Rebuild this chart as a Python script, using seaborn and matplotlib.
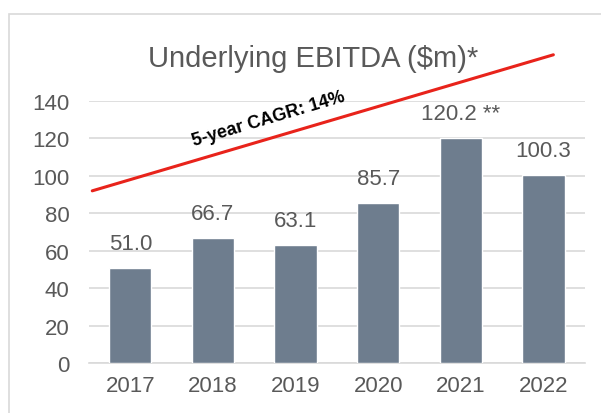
import pandas as pd
import numpy as np
import matplotlib
matplotlib.use("Agg")
import matplotlib.pyplot as plt
import seaborn as sns
from matplotlib.patches import Rectangle

years = ["2017", "2018", "2019", "2020", "2021", "2022"]
ebitda = [51.0, 66.7, 63.1, 85.7, 120.2, 100.3]
labels = ["51.0", "66.7", "63.1", "85.7", "120.2 **", "100.3"]
yticks = [0, 20, 40, 60, 80, 100, 120, 140]
cagr_text = "5-year CAGR: 14%"
cagr_x = [-0.46, 5.12]
cagr_y = [92, 164.7]

sns.set_style("white")
plt.rcParams['font.family'] = ['Liberation Sans', 'DejaVu Sans']

df = pd.DataFrame({"Year": years, "EBITDA": ebitda})

fig = plt.figure(figsize=(6.01, 4.14), dpi=100)
ax = fig.add_axes([0.148, 0.1208, 0.825, 0.6328])

# outer frame
fig.patches.append(Rectangle((9/601, -0.05), 1.2, 1 - 15/414 + 0.05, transform=fig.transFigure,
                             fill=False, edgecolor="#D9D9D9", linewidth=1.2))

sns.barplot(data=df, x="Year", y="EBITDA", color="#6E7D8E", width=0.51,
            saturation=1, ax=ax, zorder=3)

ax.set_ylim(0, 140)
ax.set_xlim(-0.5, 5.5)
ax.set_yticks(yticks)
ax.yaxis.grid(True, color="#D9D9D9", linewidth=1.2, zorder=0)
ax.set_axisbelow(True)
for s in ["top", "right", "left"]:
    ax.spines[s].set_visible(False)
ax.spines["bottom"].set_color("#D9D9D9")
ax.spines["bottom"].set_linewidth(1.2)
ax.tick_params(axis="both", length=0, labelsize=16, labelcolor="#595959")
ax.tick_params(axis="x", pad=9)
ax.tick_params(axis="y", pad=14)
ax.set_xlabel("")
ax.set_ylabel("")

for i, v in enumerate(ebitda):
    ax.annotate(labels[i], (i, v), xytext=(0, 10), textcoords="offset points",
                ha="center", va="bottom", fontsize=16, color="#595959")

# CAGR line
ax.plot(cagr_x, cagr_y, color="#E8231B", linewidth=2.2, clip_on=False, zorder=4)
ax.text(1.67, 131, cagr_text, rotation=16.5, rotation_mode="anchor",
        ha="center", va="center", fontsize=13, fontweight="bold", color="black")

fig.text(313/601, 1 - 59/414, "Underlying EBITDA ($m)*", ha="center", va="center",
         fontsize=21, color="#595959")

plt.savefig("out.png", dpi=100)
